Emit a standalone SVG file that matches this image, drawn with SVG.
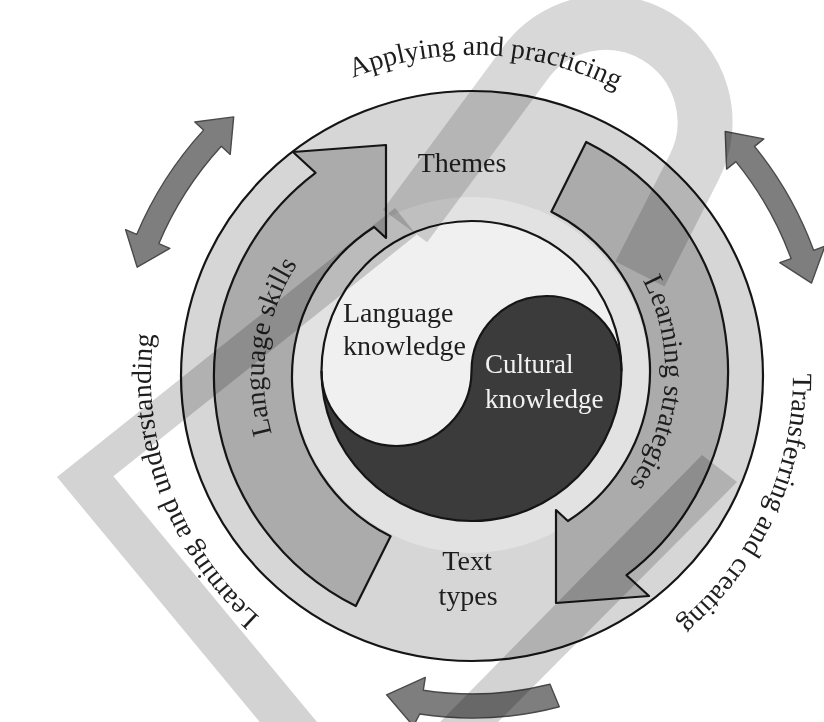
<svg xmlns="http://www.w3.org/2000/svg" width="824" height="722" viewBox="0 0 824 722">
  <defs>
    <style>
      .lbl { font-family: "Liberation Serif", "Times New Roman", serif; font-size: 28px; fill: #1e1e1e; }
      .lbl-light { font-family: "Liberation Serif", "Times New Roman", serif; font-size: 27px; fill: #f2f2f2; }
      .edge { stroke: #151515; stroke-width: 2.2; stroke-linejoin: round; }
      .big-arrow { fill: #ababab; }
      .cycle-arrow { fill: #7e7e7e; stroke: #4a4a4a; stroke-width: 1.4; stroke-linejoin: round; }
      .shade { fill: #d3d3d3; mix-blend-mode: multiply; }
      .shade-line { fill: none; stroke: #d8d8d8; stroke-width: 55; mix-blend-mode: multiply; }
    </style>
    <!-- baselines for the curved captions (all run clockwise, centred on their midpoint) -->
    <path id="arc-top" d="M 235.3 159.1 A 321 321 0 0 1 726.7 180.6"/>
    <path id="arc-left" d="M 365.4 678.8 A 321 321 0 0 1 192.3 218.4"/>
    <path id="arc-right" d="M 762.7 239.8 A 321 321 0 0 1 555.6 685.9"/>
    <path id="arc-skills" d="M 315.5 513.2 A 206 206 0 0 1 362.7 201.2"/>
    <path id="arc-strategies" d="M 605.6 231.7 A 193 193 0 0 1 586.0 526.8"/>
    <!-- one big curved arrow; the second one is the same shape turned half round -->
    <path id="ring-arrow" d="M 355.8 606.1 A 256 256 0 0 1 315.5 172.8 L 293 152 L 386 145 L 386 238 L 374.1 227.0 A 178 178 0 0 0 390.6 536.3 Z"/>
  </defs>

  <rect width="824" height="722" fill="#ffffff"/>

  <!-- outer disc -->
  <g id="outer-disc">
    <ellipse cx="472" cy="376" rx="291" ry="285" fill="#d6d6d6" class="edge"/>
  </g>

  <!-- inner light ring behind the core -->
  <g id="inner-ring">
    <circle cx="471" cy="375" r="178" fill="#e2e2e2"/>
  </g>

  <!-- core: language / cultural knowledge -->
  <g id="core">
    <circle cx="471.5" cy="371" r="150" fill="#f0f0f0"/>
    <path d="M 321.5 371 A 75 75 0 0 0 471.5 371 A 75 75 0 0 1 621.5 371 A 150 150 0 0 1 321.5 371 Z" fill="#3b3b3b"/>
    <circle cx="471.5" cy="371" r="150" fill="none" class="edge"/>
    <path d="M 321.5 371 A 75 75 0 0 0 471.5 371 A 75 75 0 0 1 621.5 371" fill="none" class="edge"/>
    <text class="lbl" x="343" y="322">Language</text>
    <text class="lbl" x="343" y="355">knowledge</text>
    <text class="lbl-light" x="485" y="373">Cultural</text>
    <text class="lbl-light" x="485" y="408">knowledge</text>
  </g>

  <!-- language skills arrow -->
  <g id="language-skills">
    <use href="#ring-arrow" class="big-arrow edge"/>
    <text class="lbl"><textPath href="#arc-skills" startOffset="50%" text-anchor="middle">Language skills</textPath></text>
  </g>

  <!-- learning strategies arrow -->
  <g id="learning-strategies">
    <use href="#ring-arrow" class="big-arrow edge" transform="rotate(180 471 374)"/>
    <text class="lbl"><textPath href="#arc-strategies" startOffset="50%" text-anchor="middle">Learning strategies</textPath></text>
  </g>

  <g id="themes">
    <text class="lbl" x="462" y="172" text-anchor="middle">Themes</text>
  </g>

  <g id="text-types">
    <text class="lbl" x="467" y="570" text-anchor="middle">Text</text>
    <text class="lbl" x="468" y="605" text-anchor="middle">types</text>
  </g>

  <!-- activity captions around the disc -->
  <g id="applying">
    <text class="lbl"><textPath href="#arc-top" startOffset="50%" text-anchor="middle">Applying and practicing</textPath></text>
  </g>
  <g id="learning">
    <text class="lbl"><textPath href="#arc-left" startOffset="50%" text-anchor="middle">Learning and understanding</textPath></text>
  </g>
  <g id="transferring">
    <text class="lbl"><textPath href="#arc-right" startOffset="50%" text-anchor="middle">Transferring and creating</textPath></text>
  </g>

  <!-- cycle arrows outside the disc -->
  <g id="connectors">
    <path class="cycle-arrow" d="M 137.2 267.2 L 125.6 229.7 L 136.7 234.4 A 364 364 0 0 1 203.6 130.1 L 194.8 122.0 L 233.7 116.9 L 230.2 154.4 L 221.3 146.3 A 340 340 0 0 0 158.8 243.7 L 169.8 248.4 Z"/>
    <path class="cycle-arrow" d="M 725.2 131.5 L 763.8 138.9 L 754.5 146.4 A 364 364 0 0 1 813.6 250.3 L 824.9 246.2 L 811.5 283.1 L 779.8 262.7 L 791.1 258.6 A 340 340 0 0 0 735.9 161.6 L 726.6 169.1 Z"/>
    <path class="cycle-arrow" d="M 386.6 694.8 L 425.3 677.4 L 423.3 690.2 A 318 318 0 0 0 550.0 684.3 L 559.3 706.7 A 342 342 0 0 1 419.7 714.0 L 413.4 726.1 Z"/>
  </g>

  <!-- pale bands laid over the whole sheet -->
  <g id="backdrop-bands">
    <path class="shade" d="M 57 477 L 395 207.9 L 416.4 234.8 L 113.4 476.3 L 317 722 L 259.7 722 Z"/>
    <path class="shade" d="M 440 722 L 702 455 L 737 482 L 498 722 Z"/>
    <path class="shade-line" d="M 405 226 L 524 65 A 99.5 99.5 0 0 1 694.2 167.2 L 640 274"/>
  </g>
</svg>
